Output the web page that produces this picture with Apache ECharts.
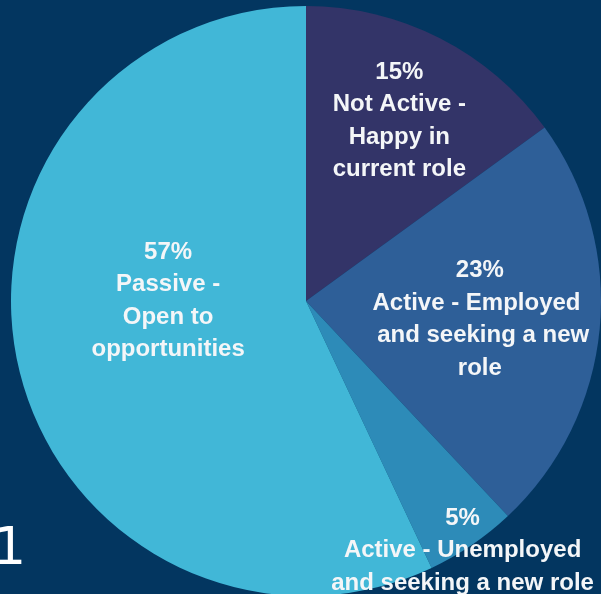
<!DOCTYPE html>
<html>
<head>
<meta charset="utf-8">
<script src="https://cdn.jsdelivr.net/npm/echarts@6/dist/echarts.min.js"></script>
<style>
  html, body { margin: 0; padding: 0; background: #033660; }
  #chart { width: 601px; height: 594px; }
</style>
</head>
<body>
<div id="chart"></div>
<script>
// Job-seeking status of the workforce, share of respondents (%)
const categories = [
  'Not Active -\nHappy in\ncurrent role',
  'Active - Employed \n and seeking a new\nrole',
  'Active - Unemployed\nand seeking a new role',
  'Passive -\nOpen to\nopportunities'
];
const shares = [15, 23, 5, 57];
const sliceColors = ['#333468', '#2e5f98', '#2d8bb8', '#41b7d7'];
// nudges applied to each inside label, in pixels
const labelNudges = [[25, -46], [24, 4], [72, 125], [9, -33]];

const chart = echarts.init(document.getElementById('chart'), null, { renderer: 'canvas' });

chart.setOption({
  backgroundColor: '#033660',
  animation: false,
  graphic: [{
    type: 'text',
    left: -7,
    top: 524,
    style: {
      text: '1',
      fill: '#ffffff',
      font: '52px "DejaVu Sans"'
    }
  }],
  series: [{
    type: 'pie',
    center: [306, 301],
    radius: [0, 295],
    startAngle: 90,
    clockwise: true,
    silent: true,
    itemStyle: { borderWidth: 0 },
    label: {
      show: true,
      position: 'inside',
      color: '#f4f6f8',
      fontFamily: '"Liberation Sans", Arial, sans-serif',
      fontWeight: 'bold',
      fontSize: 24,
      lineHeight: 32.5,
      align: 'center',
      formatter: p => p.value + '%\n' + p.name
    },
    labelLine: { show: false },
    labelLayout: p => ({ dx: labelNudges[p.dataIndex][0], dy: labelNudges[p.dataIndex][1] }),
    data: categories.map((name, i) => ({
      name: name,
      value: shares[i],
      itemStyle: { color: sliceColors[i] }
    }))
  }]
});
</script>
</body>
</html>
